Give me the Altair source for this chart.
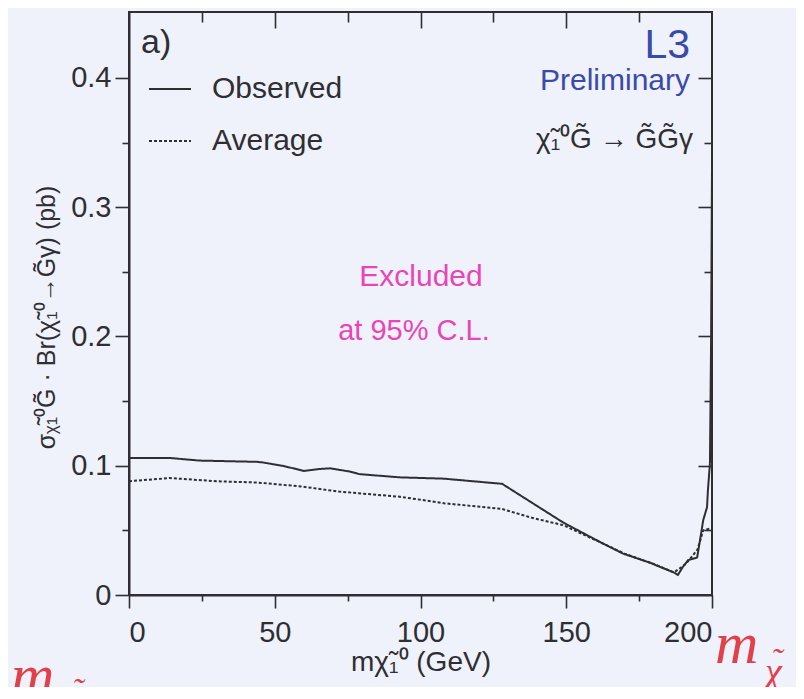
import altair as alt
import pandas as pd

# ---- data ----
obs_x = [0, 14, 24, 44, 46, 53, 60, 65.5, 69, 76, 79, 93, 108, 128, 149, 161.6, 169.5,
         178.7, 187.3, 188.3, 190, 191.8, 194.9, 195.9, 197, 198.3, 198.6, 199.3, 199.7, 200]
obs_y = [0.106, 0.106, 0.104, 0.103, 0.1025, 0.0998, 0.096, 0.0975, 0.098, 0.0954, 0.0935,
         0.091, 0.090, 0.086, 0.056, 0.041, 0.032, 0.025, 0.017, 0.0155, 0.0217, 0.027,
         0.029, 0.0425, 0.058, 0.068, 0.081, 0.102, 0.2, 0.33]
avg_x = [0, 14, 30, 44, 59, 72, 93, 108, 128, 138.6, 149, 160, 170, 180, 187, 191, 195, 197, 200]
avg_y = [0.088, 0.0905, 0.088, 0.087, 0.084, 0.080, 0.076, 0.071, 0.0665, 0.0595, 0.054,
         0.0425, 0.032, 0.024, 0.0175, 0.024, 0.035, 0.050, 0.052]

series_names = ["Observed", "Average"]
x_ticks = [0, 25, 50, 75, 100, 125, 150, 175, 200]
x_top_major = [50, 100, 150]
x_top_minor = [25, 75, 125, 175]
y_ticks = [0, 0.05, 0.1, 0.15, 0.2, 0.25, 0.3, 0.35, 0.4]
y_right_major = [0.1, 0.2, 0.3, 0.4]
y_right_minor = [0.05, 0.15, 0.25, 0.35]

df = pd.concat([
    pd.DataFrame({"m": obs_x, "s": obs_y, "series": series_names[0]}),
    pd.DataFrame({"m": avg_x, "s": avg_y, "series": series_names[1]}),
])

FONT = "Liberation Sans"
INK = "#2e2e33"
W, H = 583, 583

xs = alt.Scale(domain=[0, 200], nice=False, zero=False)
ys = alt.Scale(domain=[0, 0.451], nice=False, zero=False)

x_axis = alt.Axis(
    orient="bottom", values=x_ticks, grid=False,
    labelExpr="datum.value % 50 === 0 ? datum.label : ''",
    tickSize={"condition": {"test": "datum.value % 50 === 0", "value": 13}, "value": 6},
    labelPadding=10, labelFontSize=29, title="mχ̃₁⁰  (GeV)", titleFontSize=28,
    titleFontWeight="normal", titlePadding=1,
)
y_axis = alt.Axis(
    orient="left", values=y_ticks, grid=False,
    labelExpr="round(datum.value*100) % 10 === 0 ? (datum.value === 0 ? '0' : format(datum.value, '.1f')) : ''",
    tickSize={"condition": {"test": "round(datum.value*100) % 10 === 0", "value": 14}, "value": 7},
    labelPadding=4, labelFontSize=29,
    title="σᵪ̃₁⁰G̃ · Br(χ̃₁⁰→G̃γ)  (pb)", titleFontSize=25, titleFontWeight="normal",
    titlePadding=11, titleY=305,
)

lines = alt.Chart(df).mark_line(color=INK, strokeWidth=2, clip=True).encode(
    x=alt.X("m:Q", scale=xs, axis=x_axis),
    y=alt.Y("s:Q", scale=ys, axis=y_axis),
    strokeDash=alt.StrokeDash(
        "series:N",
        scale=alt.Scale(domain=series_names, range=[[1, 0], [3, 2]]),
        legend=alt.Legend(
            title=None, orient="none", legendX=19, legendY=55,
            symbolType="stroke", symbolSize=1764, symbolStrokeWidth=1.8,
            symbolStrokeColor=INK, labelFontSize=30, labelFont=FONT,
            labelColor=INK, labelOffset=20, rowPadding=15,
        ),
    ),
)


def tick_layer(orient, values, size):
    base = alt.Chart(df).mark_point(opacity=0)
    ax = alt.Axis(orient=orient, values=values, labels=False, domain=False, grid=False,
                  ticks=True, tickSize=size, offset=-size, title=None)
    if orient == "top":
        return base.encode(x=alt.X("m:Q", scale=xs, axis=ax), y=alt.Y("s:Q", scale=ys, axis=None))
    return base.encode(x=alt.X("m:Q", scale=xs, axis=None), y=alt.Y("s:Q", scale=ys, axis=ax))


def label(txt, x, y, size, color=INK, align="left", font=FONT, style="normal"):
    return alt.Chart(pd.DataFrame({"t": [txt]})).mark_text(
        align=align, baseline="alphabetic", fontSize=size, font=font, color=color,
        fontStyle=style,
    ).encode(text="t:N", x=alt.value(x), y=alt.value(y))


BLUE = "#3a4aa8"
PINK = "#e745b8"
RED = "#e2404a"
SERIF = "Liberation Serif"

texts = [
    label("a)", 12, 41, 34),
    label("L3", 561, 46, 41, BLUE, "right"),
    label("Preliminary", 561, 78, 30, BLUE, "right"),
    label("χ̃₁⁰G̃ → G̃G̃γ", 564, 136, 28, INK, "right"),
    label("Excluded", 292, 274, 30, PINK, "center"),
    label("at 95% C.L.", 285, 328, 29, PINK, "center"),
    label("m", 586, 651, 60, RED, "left", SERIF, "italic"),
    label("χ", 636, 672, 38, RED, "left", SERIF, "italic"),
    label("˜", 642, 660, 34, RED, "left", SERIF, "italic"),
    label("m", -118, 683, 60, RED, "left", SERIF, "italic"),
    label("˜", -57, 690, 34, RED, "left", SERIF, "italic"),
]

chart = alt.layer(
    lines,
    tick_layer("top", x_top_major, 16),
    tick_layer("top", x_top_minor, 10),
    tick_layer("right", y_right_major, 14),
    tick_layer("right", y_right_minor, 8),
    *texts,
).resolve_axis(x="independent", y="independent").properties(
    width=W, height=H,
    autosize=alt.AutoSizeParams(type="none"),
    padding={"left": 121, "top": 4, "right": 84, "bottom": 92},
    background="#eff2fa",
).configure_view(stroke=INK, strokeWidth=2).configure_axis(
    labelFont=FONT, titleFont=FONT, labelColor=INK, titleColor=INK,
    tickColor=INK, domainColor=INK, domainWidth=2, tickWidth=1.6,
)

chart.save("out.html", embed_options={"renderer": "svg", "actions": False})
